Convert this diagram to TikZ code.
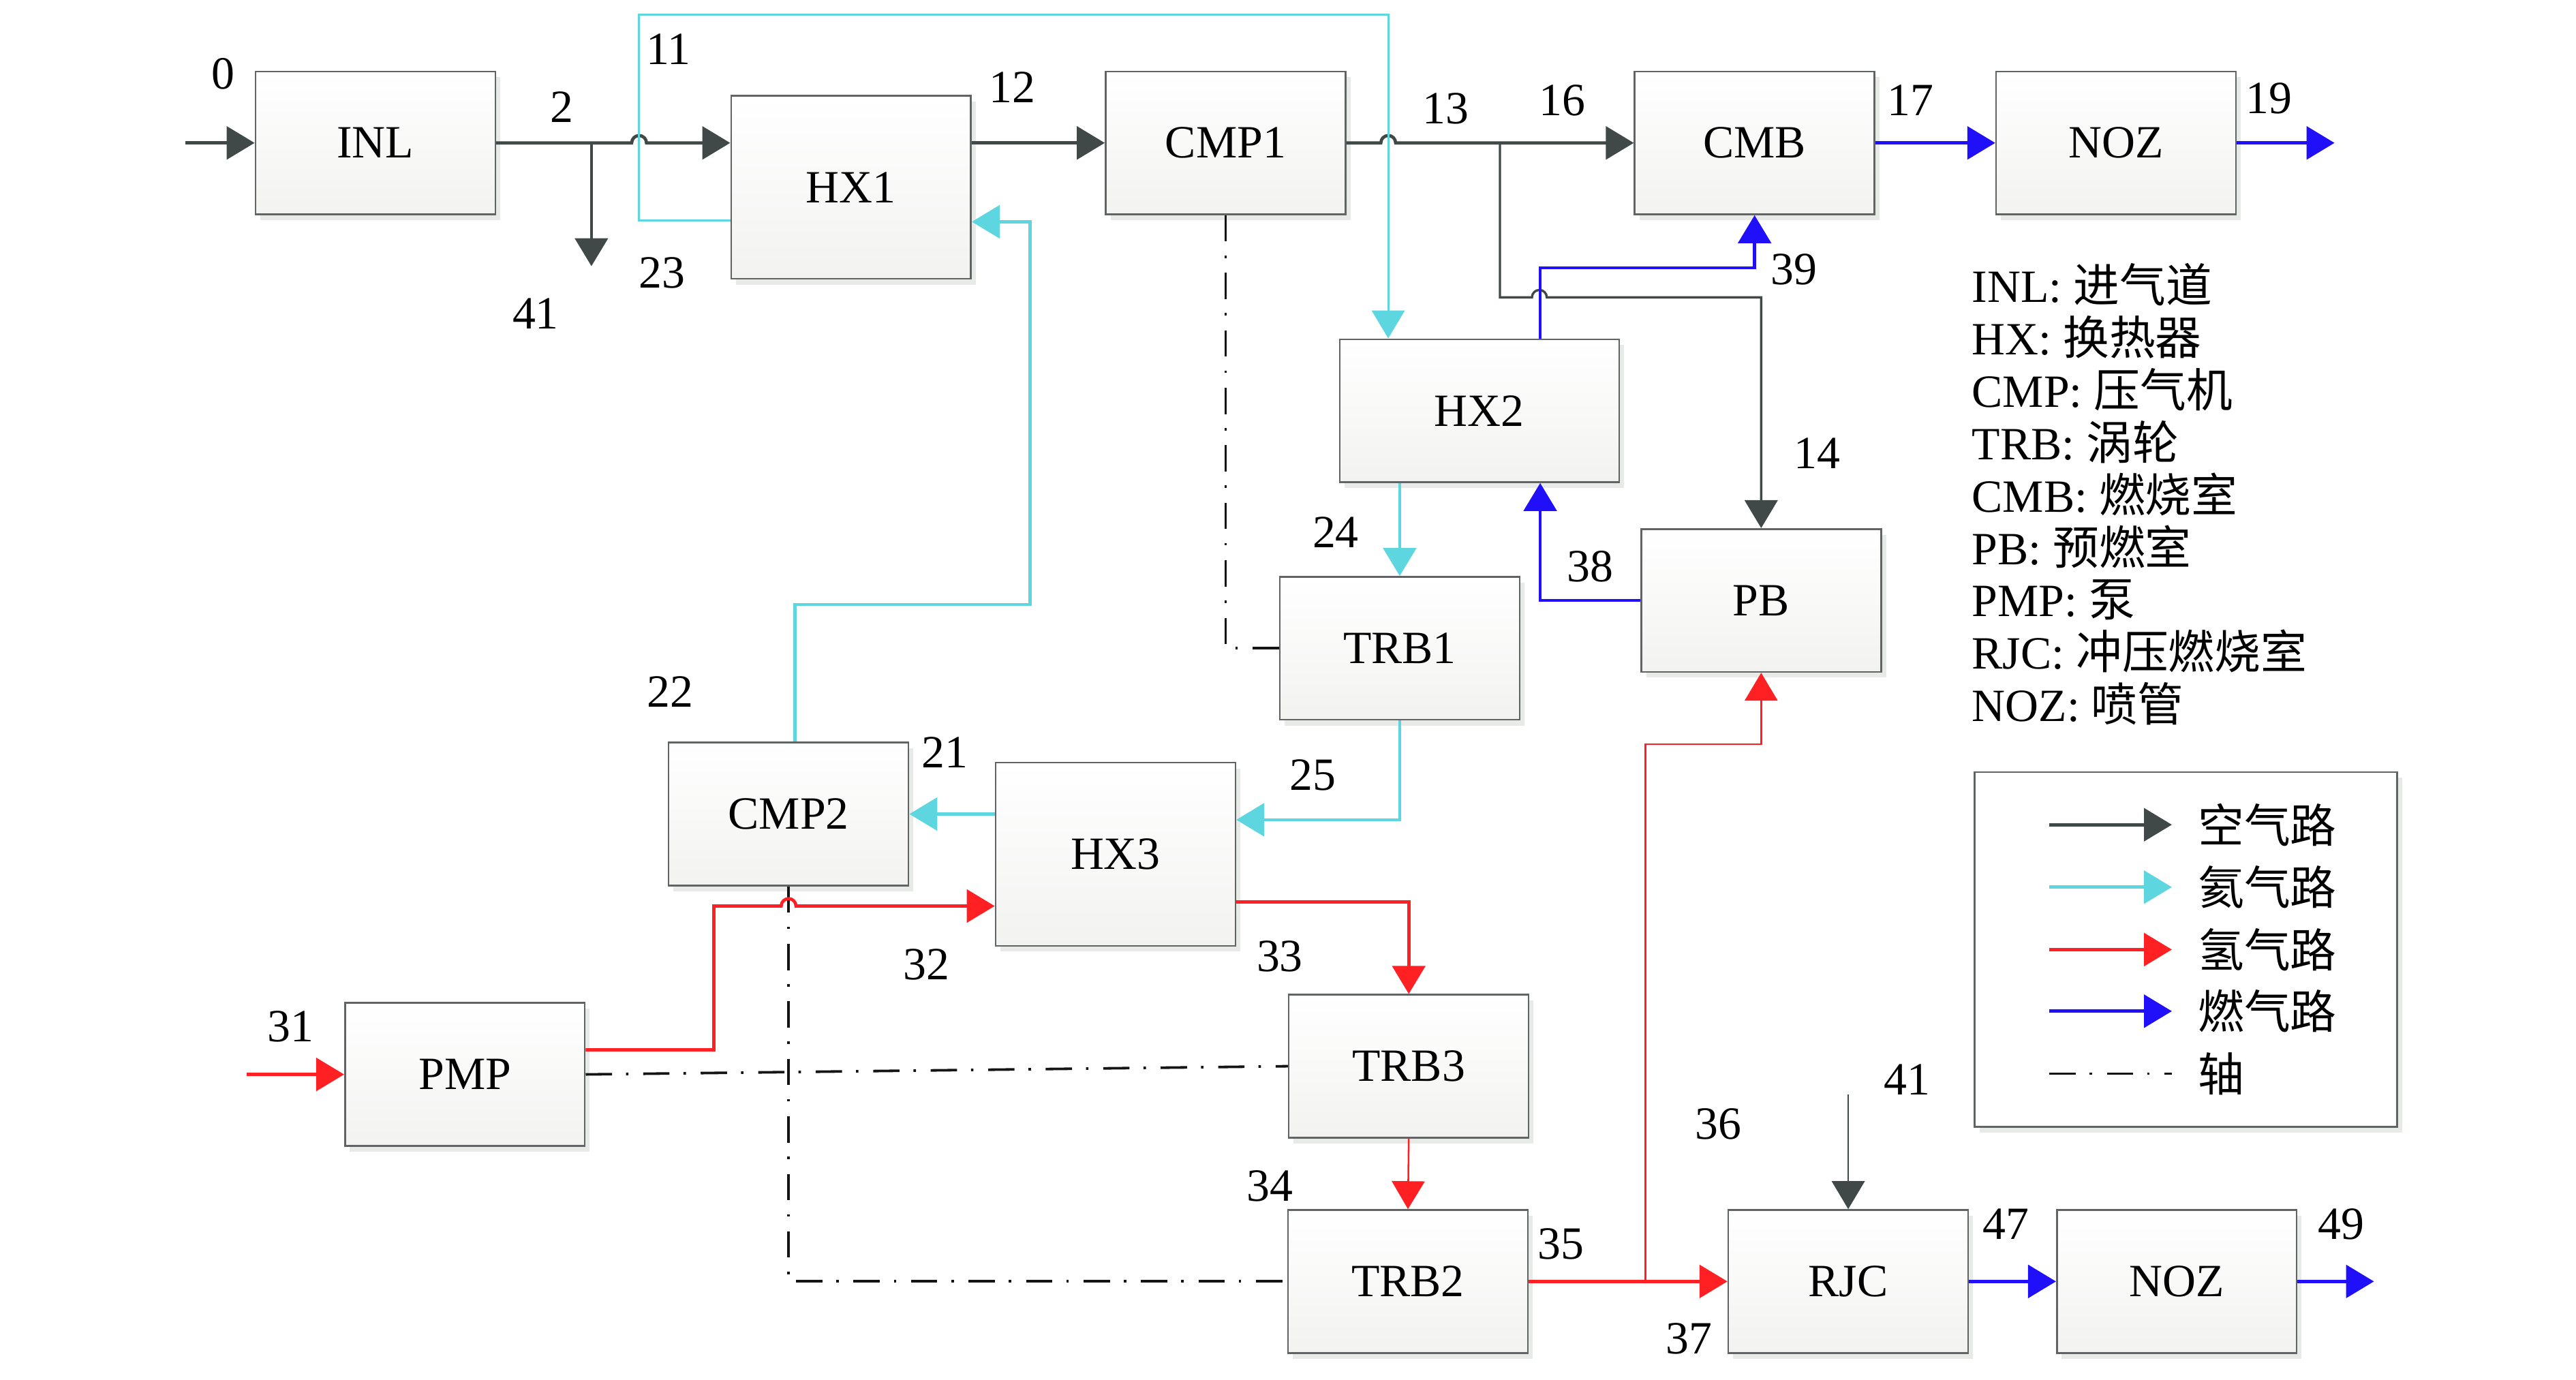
\documentclass[tikz,border=0pt]{standalone}
\usepackage{fontspec}
\setmainfont{Liberation Serif}
\newfontfamily\cjk{Noto Sans CJK SC}
\usepackage{tikz}
\usetikzlibrary{arrows.meta, positioning, calc, shadows}

\definecolor{airgray}{RGB}{64, 72, 72}
\definecolor{heliumcyan}{RGB}{94, 214, 224}
\definecolor{hydrored}{RGB}{255, 32, 36}
\definecolor{gasblue}{RGB}{32, 16, 250}
\definecolor{boxedge}{RGB}{96, 100, 100}
\definecolor{boxfill}{RGB}{242, 243, 241}
\definecolor{boxshade}{RGB}{232, 234, 232}
\definecolor{shaftblack}{RGB}{20, 20, 20}

\newcommand{\portfont}{\fontsize{16}{19}\selectfont}

\tikzset{
    unitbox/.style={draw=boxedge, line width=0.6pt, top color=white, bottom color=boxfill, minimum width=29.2mm, minimum height=17.4mm, inner sep=0pt, font=\portfont, drop shadow={shadow xshift=0.6mm, shadow yshift=-0.7mm, fill=boxshade, opacity=1}},
    tallbox/.style={unitbox, minimum height=22.3mm},
    widebox/.style={unitbox, minimum width=34mm},
    legendbox/.style={draw=boxedge, line width=0.6pt, fill=white, inner sep=0pt, drop shadow={shadow xshift=0.6mm, shadow yshift=-0.7mm, fill=boxshade, opacity=1}},
    flowtip/.style={-{Triangle[length=3.4mm, width=4mm]}},
    airflow/.style={flowtip, draw=airgray, line width=1.1pt},
    heflow/.style={flowtip, draw=heliumcyan, line width=1.1pt},
    h2flow/.style={flowtip, draw=hydrored, line width=1.1pt},
    gasflow/.style={flowtip, draw=gasblue, line width=1.1pt},
    shaftline/.style={draw=shaftblack, line width=0.9pt, dash pattern=on 3.2mm off 1.7mm on 0.3mm off 1.8mm},
    portlabel/.style={font=\portfont, inner sep=0pt},
    keyline/.style={font=\portfont, inner sep=0pt, anchor=base west},
    keytext/.style={font=\portfont\cjk, inner sep=0pt, anchor=west},
}

\begin{document}
\begin{tikzpicture}[x=0.2mm, y=-0.2mm]
    \useasboundingbox (0,0) rectangle (1568,840);

    % Air side
    \node[unitbox] (inl) at (228.5, 87) {INL};
    \node[tallbox] (hx1) at (518, 114) {HX1};
    \node[unitbox] (cmp1) at (746, 87) {CMP1};
    \node[unitbox] (cmb) at (1068, 87) {CMB};
    \node[unitbox] (noz1) at (1288, 87) {NOZ};

    % Helium loop
    \node[widebox] (hx2) at (900.5, 250) {HX2};
    \node[unitbox] (trb1) at (852, 394.6) {TRB1};
    \node[unitbox] (pb) at (1072, 365.5) {PB};
    \node[unitbox] (cmp2) at (480, 495.5) {CMP2};
    \node[tallbox] (hx3) at (679, 520) {HX3};

    % Hydrogen side
    \node[unitbox] (pmp) at (283, 654) {PMP};
    \node[unitbox] (trb3) at (857.5, 649) {TRB3};
    \node[unitbox] (trb2) at (857, 780) {TRB2};
    \node[unitbox] (rjc) at (1125, 780) {RJC};
    \node[unitbox] (noz2) at (1325, 780) {NOZ};

    % Free ends and splits
    \coordinate (in0) at (113, 87);
    \coordinate (bleed2) at (360, 87);
    \coordinate (bleed41) at (360, 162);
    \coordinate (split13) at (913, 87);
    \coordinate (out19) at (1421, 87);
    \coordinate (in31) at (150, 654);
    \coordinate (split35) at (1001.5, 780);
    \coordinate (in41) at (1125, 666);
    \coordinate (out49) at (1445, 780);

    % Shafts
    \draw[shaftline] (cmp1.south) |- (trb1.west);
    \draw[shaftline] (cmp2.south) |- (trb2.west);
    \draw[shaftline] (pmp.east) -- (trb3.west);

    % Air
    \draw[airflow] (in0) -- (inl.west);
    \draw[airflow] (inl.east) -- (384.5, 87) arc[start angle=180, end angle=0, radius=0.9mm] -- (hx1.west |- inl.east);
    \draw[airflow] (bleed2) -- (bleed41);
    \draw[airflow] (hx1.east |- cmp1.west) -- (cmp1.west);
    \draw[airflow] (cmp1.east) -- (840.5, 87) arc[start angle=180, end angle=0, radius=0.9mm] -- (cmb.west);
    \draw[airflow, line width=0.8pt] (split13) -- (913, 181) -- (932.5, 181) arc[start angle=180, end angle=0, radius=0.9mm] -- (pb.north |- 0,181) -- (pb.north);
    \draw[airflow, line width=0.6pt] (in41) -- (rjc.north);

    % Helium
    \draw[heflow, line width=0.7pt] ($(hx1.west)+(0,20)$) -- (389, 134) -- (389, 9) -- (845, 9) -- (hx2.north -| 845,9);
    \draw[heflow] (trb1.north |- hx2.south) -- (trb1.north);
    \draw[heflow] (trb1.south) |- (hx3.east |- 0,499);
    \draw[heflow] (hx3.west |- cmp2.east) -- (cmp2.east);
    \draw[heflow] (484,0 |- cmp2.north) -- (484, 368) -- (627, 368) -- (627, 135) -- (hx1.east |- 0,135);

    % Hydrogen
    \draw[h2flow] (in31) -- (pmp.west);
    \draw[h2flow] (pmp.east |- 0,639) -- (434.5, 639) -- (434.5, 551.5) -- (475.5, 551.5) arc[start angle=180, end angle=0, radius=0.9mm] -- (hx3.west |- 0,551.5);
    \draw[h2flow] (hx3.east |- 0,549) -| (trb3.north);
    \draw[h2flow, line width=0.6pt] (trb3.south) -- (trb2.north);
    \draw[h2flow] (trb2.east) -- (rjc.west);
    \draw[h2flow, line width=0.6pt] (split35) -- (1001.5, 453) -| (pb.south);

    % Combustion gas
    \draw[gasflow] (cmb.east) -- (noz1.west);
    \draw[gasflow] (noz1.east) -- (out19);
    \draw[gasflow] (hx2.north -| 937.5,0) -- (937.5, 163) -| (cmb.south);
    \draw[gasflow] (pb.west) -| (hx2.south -| 937.5,0);
    \draw[gasflow] (rjc.east) -- (noz2.west);
    \draw[gasflow] (noz2.east) -- (out49);

    % Station numbers
    \node[portlabel] (n0) at (136, 45) {0};
    \node[portlabel] (n2) at (342, 65) {2};
    \node[portlabel] (n11) at (407, 30) {11};
    \node[portlabel] (n12) at (616, 53) {12};
    \node[portlabel] (n23) at (403, 166) {23};
    \node[portlabel] (n41a) at (326, 191) {41};
    \node[portlabel] (n13) at (880, 66) {13};
    \node[portlabel] (n16) at (951, 61) {16};
    \node[portlabel] (n17) at (1163, 61) {17};
    \node[portlabel] (n19) at (1381, 60) {19};
    \node[portlabel] (n39) at (1092, 164) {39};
    \node[portlabel] (n14) at (1106, 276) {14};
    \node[portlabel] (n24) at (813, 324) {24};
    \node[portlabel] (n38) at (968, 345) {38};
    \node[portlabel] (n22) at (408, 421) {22};
    \node[portlabel] (n21) at (575, 458) {21};
    \node[portlabel] (n25) at (799, 472) {25};
    \node[portlabel] (n32) at (564, 587) {32};
    \node[portlabel] (n33) at (779, 582) {33};
    \node[portlabel] (n31) at (177, 625) {31};
    \node[portlabel] (n34) at (773, 722) {34};
    \node[portlabel] (n35) at (950, 757) {35};
    \node[portlabel] (n36) at (1046, 684) {36};
    \node[portlabel] (n41b) at (1161, 657) {41};
    \node[portlabel] (n37) at (1028, 815) {37};
    \node[portlabel] (n47) at (1221, 745) {47};
    \node[portlabel] (n49) at (1425, 745) {49};

    % Abbreviations
    \node[keyline] (abINL) at (1200, 184) {INL: {\cjk 进气道}};
    \node[keyline] (abHX) at (1200, 215.9) {HX: {\cjk 换热器}};
    \node[keyline] (abCMP) at (1200, 247.8) {CMP: {\cjk 压气机}};
    \node[keyline] (abTRB) at (1200, 279.7) {TRB: {\cjk 涡轮}};
    \node[keyline] (abCMB) at (1200, 311.6) {CMB: {\cjk 燃烧室}};
    \node[keyline] (abPB) at (1200, 343.5) {PB: {\cjk 预燃室}};
    \node[keyline] (abPMP) at (1200, 375.4) {PMP: {\cjk 泵}};
    \node[keyline] (abRJC) at (1200, 407.3) {RJC: {\cjk 冲压燃烧室}};
    \node[keyline] (abNOZ) at (1200, 439.2) {NOZ: {\cjk 喷管}};

    % Legend
    \node[legendbox, minimum width=51.4mm, minimum height=43.2mm] (legend) at (1330.5, 578) {};
    \node[keytext] (lgair) at (1337.5, 502) {空气路};
    \node[keytext] (lghe) at (1337.5, 540) {氦气路};
    \node[keytext] (lgh2) at (1337.5, 578) {氢气路};
    \node[keytext] (lggas) at (1337.5, 615.5) {燃气路};
    \node[keytext] (lgshaft) at (1337.5, 653.5) {轴};
    \draw[airflow] ([xshift=-18mm]lgair.west) -- ([xshift=-3.1mm]lgair.west);
    \draw[heflow] ([xshift=-18mm]lghe.west) -- ([xshift=-3.1mm]lghe.west);
    \draw[h2flow] ([xshift=-18mm]lgh2.west) -- ([xshift=-3.1mm]lgh2.west);
    \draw[gasflow] ([xshift=-18mm]lggas.west) -- ([xshift=-3.1mm]lggas.west);
    \draw[shaftline] ([xshift=-18mm]lgshaft.west) -- ([xshift=-3.1mm]lgshaft.west);
\end{tikzpicture}
\end{document}
